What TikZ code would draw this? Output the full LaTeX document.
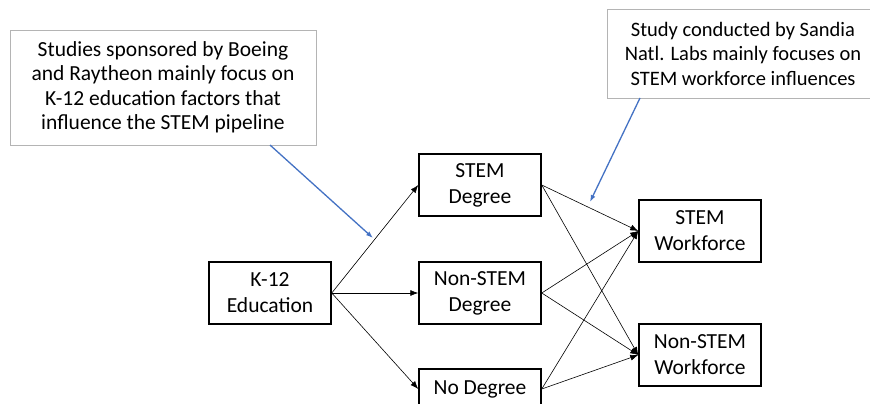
\documentclass[tikz,border=0pt]{standalone}
\usepackage{fontspec}
\setmainfont{Carlito}
\usetikzlibrary{arrows.meta}
\definecolor{callblue}{RGB}{68,114,196}
\definecolor{callgray}{RGB}{180,180,180}
\begin{document}
\begin{tikzpicture}[x=1pt,y=-1pt,
  box/.style={draw=black,line width=1.5pt,minimum width=122pt,minimum height=62pt,inner sep=0pt,align=center,font=\fontsize{21.5}{26}\selectfont},
  callout/.style={draw=callgray,line width=0.8pt,fill=white,inner sep=0pt,align=center},
  flow/.style={-{Latex[length=8pt,width=6pt]},line width=0.6pt,black},
  note/.style={-{Latex[length=7pt,width=5pt]},line width=1.3pt,callblue}]
\clip (0,0) rectangle (870,404);
\fill[white] (0,0) rectangle (870,404);
\node[box] (k12) at (270,293) {K-12\\Education};
\node[box] (sd) at (480,185) {STEM\\Degree};
\node[box] (nsd) at (480,293) {Non-STEM\\Degree};
\node[box,minimum height=40pt] (nd) at (480,389) {No Degree};
\node[box] (sw) at (700,231) {STEM\\Workforce};
\node[box] (nsw) at (700,355) {Non-STEM\\Workforce};
\draw[flow] (k12.east) -- (sd.west);
\draw[flow] (k12.east) -- (nsd.west);
\draw[flow] (k12.east) -- (nd.west);
\foreach \s in {sd,nsd,nd}{
  \draw[flow] (\s.east) -- (sw.west);
  \draw[flow] (\s.east) -- (nsw.west);
}
\node[callout,minimum width=306pt,minimum height=115pt,font=\fontsize{21.5}{24.5}\selectfont] (c1) at (163,87.5) {Studies sponsored by Boeing\\and Raytheon mainly focus on\\K-12 education factors that\\influence the STEM pipeline};
\node[callout,minimum width=272pt,minimum height=89pt,font=\fontsize{20.5}{24.5}\selectfont] (c2) at (743,53.5) {Study conducted by Sandia\\Natl. Labs mainly focuses on\\STEM workforce influences};
\coordinate (t1) at (373,238);
\coordinate (t2) at (590,202);
\draw[note] (270,145) -- (t1);
\draw[note] (640,98) -- (t2);
\end{tikzpicture}
\end{document}
